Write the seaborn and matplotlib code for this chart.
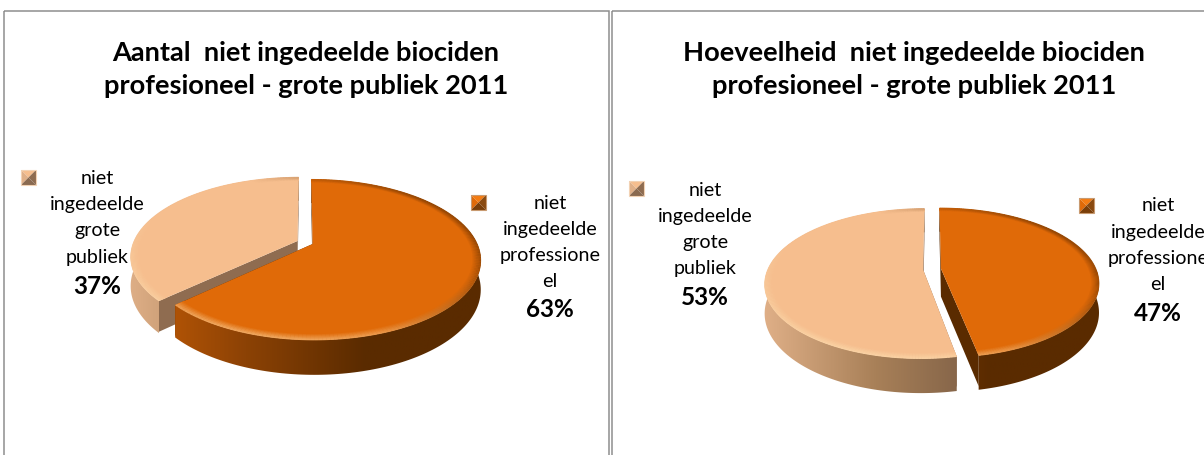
import numpy as np
import matplotlib
matplotlib.use('Agg')
import matplotlib.pyplot as plt
import seaborn as sns
from matplotlib.collections import LineCollection
from matplotlib.patches import Polygon, Rectangle
from matplotlib.transforms import Transform

sns.set_theme(style='white')
plt.rcParams['font.family'] = ['Lato', 'DejaVu Sans']

slices = ['professioneel', 'grote publiek']
aantal_pct = [63, 37]
hoeveelheid_pct = [47, 53]
titles = ['Aantal  niet ingedeelde biociden\nprofesioneel - grote publiek 2011',
          'Hoeveelheid  niet ingedeelde biociden\nprofesioneel - grote publiek 2011']
label_prof = ['niet', 'ingedeelde', 'professione', 'el']
label_pub = ['niet', 'ingedeelde', 'grote', 'publiek']

ORANGE = '#E06A08'
LIGHT = '#F6BE8E'
wall_orange = sns.blend_palette(['#C85E06', '#8C4205', '#5A2B00', '#5A2B00'], as_cmap=True)
wall_light = sns.blend_palette(['#E0B088', '#A88058', '#7A5C44', '#7A5C44'], as_cmap=True)
DEPTH = 28


class DiskProjection(Transform):
    """ Tilted disc with some perspective, unit circle to pixel coordinates """
    input_dims = 2
    output_dims = 2

    def __init__(self, cx, cy, a, b, k):
        super().__init__()
        self.cx, self.cy, self.a, self.b, self.k = cx, cy, a, b, k

    def transform_non_affine(self, xy):
        xy = np.asarray(xy, dtype=float)
        w = 1 + self.k * xy[:, 1]
        return np.column_stack([self.cx + self.a * xy[:, 0] / w, self.cy - self.b * xy[:, 1] / w])


def mix(color, other, t):
    c = np.array(matplotlib.colors.to_rgb(color))
    return tuple(c + (np.array(other) - c) * t)


def draw_pie(ax, shares, explode, proj):
    wedges, _ = ax.pie(shares, colors=[ORANGE, LIGHT], startangle=90, counterclock=False,
                       explode=[explode, explode], wedgeprops={'linewidth': 0})
    for wedge, cmap, cut_color, z in [(wedges[1], wall_light, '#8F6C50', 1), (wedges[0], wall_orange, '#5A2B00', 5)]:
        wedge.set_transform(proj + ax.transData)
        wedge.set_zorder(z + 2)
        c = np.array(wedge.center)
        th = np.radians(np.linspace(wedge.theta1, wedge.theta2, 200))
        rim_disk = c + np.column_stack([np.cos(th), np.sin(th)])
        rim = proj.transform_non_affine(rim_disk)
        drop = DEPTH / (1 + proj.k * rim_disk[:, 1])

        # straight cut faces
        apex = proj.transform_non_affine(c[None, :])[0]
        for end in (rim[0], rim[-1], ):
            ax.fill([apex[0], end[0], end[0], apex[0]],
                    [apex[1], end[1], end[1] + DEPTH * 1.1, apex[1] + DEPTH],
                    color=cut_color, lw=0, zorder=z)

        # rim wall, shaded from left to right over the whole pie
        wall = np.vstack([rim, (rim + np.column_stack([0 * drop, drop]))[::-1]])
        im = ax.imshow(np.linspace(0, 1, 256)[None, :], cmap=cmap, aspect='auto', zorder=z + 1,
                       extent=(proj.cx - proj.a * 1.1, proj.cx + proj.a * 1.1, proj.cy + 150, proj.cy - 150))
        im.set_clip_path(Polygon(wall, transform=ax.transData))

        # soft bevel along the outer edge of the top face
        base = wedge.get_facecolor()[:3]
        segs, seg_colors = [], []
        for r in np.linspace(0.95, 0.998, 8):
            pts_disk = c + r * np.column_stack([np.cos(th), np.sin(th)])
            pts = proj.transform_non_affine(pts_disk)
            fade = (r - 0.95) / 0.048
            lit = np.clip(-0.35 * np.cos(th) - 0.9 * np.sin(th), 0, 1)
            shade = np.clip(np.cos(th) + 0.35 * np.sin(th), 0, 1)
            for i in range(len(th) - 1):
                col = mix(base, (1, 0.9, 0.72), lit[i] * fade * 0.5)
                col = mix(col, (0.35, 0.17, 0), shade[i] * fade * 0.55)
                segs.append(pts[i:i + 2])
                seg_colors.append(col)
        ax.add_collection(LineCollection(segs, colors=seg_colors, linewidths=1.0, zorder=z + 3))


def legend_key(ax, x, y, top, left, right, bottom, edge):
    s = 15
    mx, my = x + s / 2, y + s / 2
    ax.fill([x, x + s, mx], [y, y, my], color=top, lw=0, zorder=10)
    ax.fill([x, x, mx], [y, y + s, my], color=left, lw=0, zorder=10)
    ax.fill([x + s, x + s, mx], [y, y + s, my], color=right, lw=0, zorder=10)
    ax.fill([x, x + s, mx], [y + s, y + s, my], color=bottom, lw=0, zorder=10)
    ax.add_patch(Rectangle((x, y), s, s, fill=False, ec=edge, lw=0.8, zorder=10))


def legend_text(ax, x, ys, lines, pct):
    for y, line in zip(ys, lines):
        ax.text(x, y, line, ha='center', va='baseline', fontsize=14.1, color='black', zorder=11)
    ax.text(x, ys[-1], f'{pct}%', ha='center', va='baseline', fontsize=17.5, fontweight='bold',
            color='black', zorder=11)


fig = plt.figure(figsize=(12.04, 4.56), dpi=100)
ax = fig.add_axes([0, 0, 1, 1])

draw_pie(ax, aantal_pct, 0.05, DiskProjection(305, 243.5, 164, 76.5, 0.195))
draw_pie(ax, hoeveelheid_pct, 0.058, DiskProjection(932, 270, 155, 72, 0.19))

ax.set_aspect('auto')
ax.set_xlim(0, 1204)
ax.set_ylim(456, 0)
ax.set_axis_off()

# panel frames run off the bottom and right of the picture
ax.add_patch(Rectangle((4, 12), 605, 480, fill=False, ec='#8E8E8E', lw=1.1, zorder=12))
ax.add_patch(Rectangle((612, 12), 620, 480, fill=False, ec='#8E8E8E', lw=1.1, zorder=12))

for x, title in zip([306, 914], titles):
    ax.text(x, 69.5, title, ha='center', va='center', fontsize=19.6, fontweight='bold',
            linespacing=1.48, color='black', zorder=11)

light_key = ('#F6BE8E', '#E0B088', '#8F6C50', '#8A6A50', '#F2D2B4')
orange_key = ('#F47C12', '#E06A08', '#8A4A10', '#7A3E08', '#C89A70')
legend_key(ax, 21, 171, *light_key)
legend_key(ax, 471, 196, *orange_key)
legend_key(ax, 629, 182, *light_key)
legend_key(ax, 1079, 199, *orange_key)

legend_text(ax, 97, [184, 210, 236, 263, 294], label_pub + [''], aantal_pct[1])
legend_text(ax, 550, [209, 235, 261, 287, 317], label_prof + [''], aantal_pct[0])
legend_text(ax, 705, [196, 222, 248, 274, 305], label_pub + [''], hoeveelheid_pct[1])
legend_text(ax, 1158, [211, 238, 264, 290, 321], label_prof + [''], hoeveelheid_pct[0])

fig.savefig('out.png', dpi=100, facecolor='white')
